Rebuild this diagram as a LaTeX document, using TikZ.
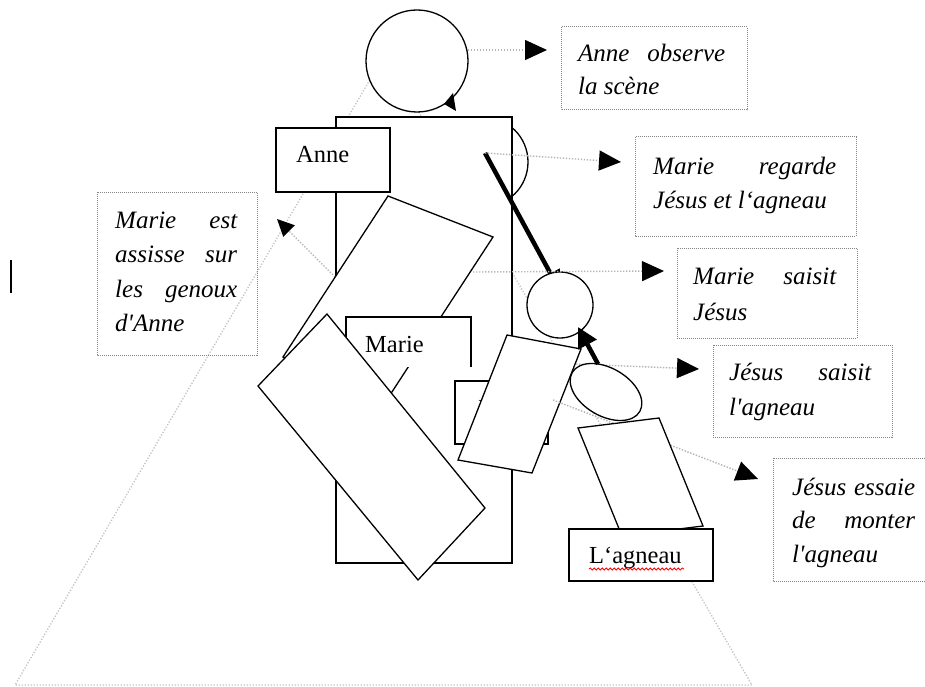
\documentclass[tikz,border=0pt]{standalone}
\usepackage{fontspec}
\setmainfont{Liberation Serif}[Ligatures=TeXOff]
\usetikzlibrary{arrows.meta,decorations.pathmorphing}
\definecolor{connc}{HTML}{B4B4B4}
\definecolor{boxc}{HTML}{858585}
\definecolor{tric}{HTML}{C4C4C4}
\newcommand\mynotefont{\fontsize{25}{34}\selectfont\itshape}
\newcommand\mylblfont{\fontsize{24.5}{30}\selectfont}
\tikzset{
  fig/.style={draw=black, line width=1.3pt, fill=white, line join=miter},
  connector/.style={draw=connc, line width=1.4pt, dash pattern=on 1.4pt off 1.6pt,
    -{Triangle[length=22pt,width=20pt,color=black]}},
  smallconnector/.style={draw=connc, line width=1.4pt, dash pattern=on 1.4pt off 1.6pt,
    -{Triangle[length=17pt,width=16pt,color=black]}},
  notebox/.style={draw=boxc, line width=1pt, dash pattern=on 1pt off 1pt},
  note/.style={anchor=base west, inner sep=0pt, font=\mynotefont},
  lbl/.style={anchor=base west, inner sep=0pt, font=\mylblfont},
  thickarrow/.style={draw=black, line width=4.5pt, -{Triangle[length=20pt,width=20pt]}},
}
\begin{document}
\begin{tikzpicture}[x=1pt,y=-1pt]
\useasboundingbox (0,0) rectangle (925,687);
\fill[white] (0,0) rectangle (925,687);
\clip (0,0) rectangle (925,687);

% big dotted triangle
\draw[draw=tric, line width=1.3pt, dash pattern=on 1.3pt off 1.7pt] (385,54) -- (15,685) -- (752,685) -- cycle;

% cursor mark
\draw[line width=1.3pt] (11,260) -- (11,293);

% Anne head
\draw[fig] (417,61) circle[radius=51pt];
\fill[black] (453,93) -- (444,104) -- (456,111) -- cycle;

% Marie head (behind Anne body)
\draw[fig] (483,162) circle[radius=45pt];

% Anne body
\draw[fig] (336,117) rectangle (512,563);

% connector to left note (behind Marie upper body)
\coordinate (fS) at (352,294);
\coordinate (fE) at (277,219);
\draw[smallconnector] (fS) -- (fE);

% Anne label
\draw[fig] (276,128) rectangle (390,192);
\node[lbl] (anneTxt) at (296,163) {Anne};

% Marie upper body (tilted)
\draw[fig] (388,196) -- (493,237) -- (388,398) -- (283,357) -- cycle;

% Marie arm (thick) towards Jesus head
\coordinate (armS) at (485,153);
\coordinate (armE) at (560,291);
\draw[thickarrow] (armS) -- (armE);

% Marie label box (no bottom edge visible)
\fill[white] (346,317) rectangle (471,367);
\draw[line width=1.3pt] (346,367) -- (346,317) -- (471,317) -- (471,367);
\node[lbl] (marieTxt) at (365,352) {Marie};

% Marie lap (big tilted)
\draw[fig] (327,314) -- (485,508) -- (418,580) -- (258,386) -- cycle;

% Jesus label box
\draw[fig] (455,381) rectangle (548,444);
\node[lbl] (jesusTxt) at (476,416) {Jésus};

% Jesus head
\draw[fig] (560,305) circle[radius=33pt];

% Jesus body
\draw[fig] (507,335) -- (581,349) -- (532,473) -- (458,460) -- cycle;

% connectors
\coordinate (aS) at (468,50);   \coordinate (aE) at (547,50);
\coordinate (bS) at (485,153);  \coordinate (bE) at (621,162);
\coordinate (cS) at (473,272);  \coordinate (cE) at (664,271);
\coordinate (dS) at (576,364);  \coordinate (dE) at (699,369);
\coordinate (eS) at (553,400);  \coordinate (eE) at (758,479);
\draw[connector] (aS) -- (aE);
\draw[connector] (bS) -- (bE);
\draw[connector] (cS) -- (cE);
\draw[connector] (dS) -- (dE);
\draw[connector] (eS) -- (eE);

% Jesus arm (ellipse)
\draw[fig, rotate around={-30:(606,392)}] (606,392) ellipse[x radius=39pt, y radius=24pt];

% thick arrow from arm to Jesus head
\coordinate (jaS) at (598,364);
\coordinate (jaE) at (578,327);
\draw[thickarrow] (jaS) -- (jaE);

% lamb body
\draw[fig] (578,428) -- (659,418) -- (703,526) -- (622,536) -- cycle;

% L'agneau label
\draw[fig] (569,529) rectangle (713,581);
\node[lbl] (agneauTxt) at (589,563) {L‘agneau};
\draw[red, line width=0.8pt, decorate, decoration={snake, amplitude=1.1pt, segment length=4pt}] (589,569) -- (684,569);

% note boxes
\draw[notebox] (561,27) rectangle (747,110);
\node[note] (noteA) at (578,62) {\vtop{\baselineskip=33pt
  \hbox to 147pt{Anne\hfill observe}\hbox{la scène}}};

\draw[notebox] (635,137) rectangle (856,236);
\node[note] (noteB) at (653,175) {\vtop{\baselineskip=33pt
  \hbox to 183pt{Marie\hfill regarde}\hbox{Jésus et l‘agneau}}};

\draw[notebox] (677,248) rectangle (857,338);
\node[note] (noteC) at (693,284) {\vtop{\baselineskip=36pt
  \hbox to 143pt{Marie\hfill saisit}\hbox{Jésus}}};

\draw[notebox] (713,345) rectangle (892,437);
\node[note] (noteD) at (729,380) {\vtop{\baselineskip=35pt
  \hbox to 142pt{Jésus\hfill saisit}\hbox{l'agneau}}};

\draw[notebox] (773,458) rectangle (945,581);
\node[note] (noteE) at (792,495) {\vtop{\baselineskip=33.5pt
  \hbox to 123pt{Jésus\hfill essaie}\hbox to 123pt{de\hfill monter}\hbox{l'agneau}}};

\draw[notebox] (97,192) rectangle (257,355);
\node[note] (noteF) at (115,228) {\vtop{\baselineskip=34.5pt
  \hbox to 122pt{Marie\hfill est}\hbox to 122pt{assisse\hfill sur}\hbox to 122pt{les\hfill genoux}\hbox{d'Anne}}};
\end{tikzpicture}
\end{document}
